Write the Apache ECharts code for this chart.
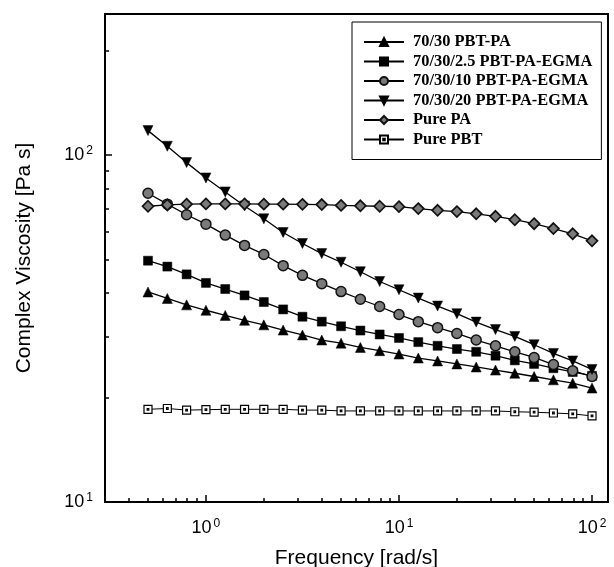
<!DOCTYPE html>
<html>
<head>
<meta charset="utf-8">
<script src="https://cdn.jsdelivr.net/npm/echarts@6/dist/echarts.min.js"></script>
<style>html,body{margin:0;padding:0;background:#fff}#c{width:614px;height:567px}</style>
</head>
<body>
<div id="c"></div>
<script>
var freq = [0.501, 0.631, 0.794, 1.0, 1.259, 1.585, 1.995, 2.512, 3.162, 3.981, 5.012, 6.31, 7.943, 10.0, 12.59, 15.85, 19.95, 25.12, 31.62, 39.81, 50.12, 63.1, 79.43, 100.0];
var pbtPa  = [40.3, 38.6, 37.0, 35.7, 34.5, 33.4, 32.4, 31.3, 30.3, 29.3, 28.7, 27.9, 27.3, 26.7, 26.0, 25.5, 25.0, 24.5, 24.0, 23.5, 23.0, 22.5, 22.0, 21.3];
var egma25 = [49.6, 47.7, 45.3, 42.8, 41.1, 39.4, 37.7, 35.9, 34.2, 33.1, 32.1, 31.2, 30.4, 29.7, 28.9, 28.2, 27.6, 27.1, 26.4, 25.6, 25.0, 24.3, 23.7, 23.1];
var egma10 = [77.6, 72.2, 67.3, 63.2, 58.8, 54.9, 51.7, 48.0, 45.0, 42.6, 40.4, 38.4, 36.6, 34.7, 33.1, 31.8, 30.6, 29.3, 28.2, 27.1, 26.1, 24.9, 23.9, 23.0];
var egma20 = [117.6, 106.0, 95.1, 85.9, 78.3, 71.3, 65.5, 59.8, 55.6, 52.0, 49.1, 46.1, 43.2, 40.9, 38.7, 36.7, 34.9, 33.0, 31.4, 30.0, 28.4, 26.8, 25.5, 24.1];
var purePa = [71.2, 71.8, 72.2, 72.3, 72.3, 72.3, 72.2, 72.2, 72.1, 72.0, 71.6, 71.4, 71.2, 71.0, 70.1, 69.3, 68.7, 67.7, 66.6, 65.1, 63.4, 61.4, 59.3, 56.6];
var purePbt = [18.5, 18.6, 18.4, 18.45, 18.5, 18.5, 18.5, 18.5, 18.4, 18.4, 18.3, 18.3, 18.3, 18.3, 18.3, 18.3, 18.3, 18.3, 18.3, 18.2, 18.15, 18.05, 17.95, 17.7];

var seriesNames = ['70/30 PBT-PA', '70/30/2.5 PBT-PA-EGMA', '70/30/10 PBT-PA-EGMA', '70/30/20 PBT-PA-EGMA', 'Pure PA', 'Pure PBT'];

var xMajor = [1, 10, 100];
var xMinor = [0.4, 0.5, 0.6, 0.7, 0.8, 0.9, 2, 3, 4, 5, 6, 7, 8, 9, 20, 30, 40, 50, 60, 70, 80, 90];
var yMajor = [10, 100];
var yMinor = [20, 30, 40, 50, 60, 70, 80, 90, 200];

var X_MIN = 0.3, X_MAX = 121, Y_MIN = 10, Y_MAX = 255;

function pairs(ys) { return freq.map(function (f, i) { return [f, ys[i]]; }); }

var chart = echarts.init(document.getElementById('c'), null, { renderer: 'canvas' });

var lbl = {
  fontFamily: 'Liberation Sans, Arial, sans-serif', fontSize: 18, color: '#000',
  formatter: function (v) { return '{b|10}{s|' + Math.round(Math.log10(v)) + '}'; },
  rich: {
    b: { fontSize: 18, fontFamily: 'Liberation Sans, Arial, sans-serif', color: '#000' },
    s: { fontSize: 12, fontFamily: 'Liberation Sans, Arial, sans-serif', color: '#000', padding: [0, 0, 8, 2] }
  }
};

function baseX(extra) {
  return Object.assign({
    type: 'log', logBase: 10, min: X_MIN, max: X_MAX, gridIndex: 0,
    position: 'bottom', splitLine: { show: false }, axisLine: { show: false }
  }, extra);
}
function baseY(extra) {
  return Object.assign({
    type: 'log', logBase: 10, min: Y_MIN, max: Y_MAX, gridIndex: 0,
    position: 'left', splitLine: { show: false }, axisLine: { show: false }
  }, extra);
}

var mk = function (name, data, symbol, size, itemStyle, lw) {
  return {
    name: name, type: 'line', data: pairs(data), symbol: symbol, symbolSize: size,
    lineStyle: { color: '#000', width: lw || 1.3 }, itemStyle: itemStyle,
    xAxisIndex: 0, yAxisIndex: 0, z: 3, animation: false, showAllSymbol: true
  };
};

var option = {
  animation: false,
  backgroundColor: '#fff',
  grid: { left: 105, right: 6, top: 14, bottom: 65, show: true, borderColor: '#000', borderWidth: 2, backgroundColor: 'transparent', containLabel: false, outerBoundsMode: 'none' },
  legend: {
    orient: 'vertical', left: 352, top: 22,
    data: seriesNames,
    itemWidth: 40, itemHeight: 10, itemGap: 3.5,
    padding: [12, 9, 12, 11],
    borderColor: '#000', borderWidth: 1,
    backgroundColor: '#fff',
    textStyle: { fontFamily: 'Liberation Serif, Times New Roman, serif', fontWeight: 'bold', fontSize: 16.4, color: '#000', padding: [0, 0, 0, 4] },
    inactiveColor: '#000'
  },
  xAxis: [
    baseX({
      name: 'Frequency [rad/s]', nameLocation: 'middle', nameGap: 46,
      nameTextStyle: { fontFamily: 'Liberation Sans, Arial, sans-serif', fontSize: 21, color: '#000' },
      axisTick: { show: true, inside: true, length: 7, lineStyle: { color: '#000', width: 1.5 }, customValues: xMajor },
      axisLabel: Object.assign({ show: true, margin: 16, customValues: xMajor, showMinLabel: true, showMaxLabel: true }, lbl)
    }),
    baseX({
      axisTick: { show: true, inside: true, length: 4, lineStyle: { color: '#000', width: 1.5 }, customValues: xMinor },
      axisLabel: { show: false }
    })
  ],
  yAxis: [
    baseY({
      name: 'Complex Viscosity [Pa s]', nameLocation: 'middle', nameGap: 70, nameRotate: 90,
      nameTextStyle: { fontFamily: 'Liberation Sans, Arial, sans-serif', fontSize: 21, color: '#000' },
      axisTick: { show: true, inside: true, length: 7, lineStyle: { color: '#000', width: 1.5 }, customValues: yMajor },
      axisLabel: Object.assign({ show: true, margin: 12, customValues: yMajor }, lbl)
    }),
    baseY({
      axisTick: { show: true, inside: true, length: 4, lineStyle: { color: '#000', width: 1.5 }, customValues: yMinor },
      axisLabel: { show: false }
    })
  ],
  series: [
    mk(seriesNames[0], pbtPa, 'triangle', 10, { color: '#000', borderColor: '#000', borderWidth: 0.5 }),
    mk(seriesNames[1], egma25, 'rect', 9, { color: '#000', borderColor: '#000', borderWidth: 0.5 }),
    mk(seriesNames[2], egma10, 'circle', 10, { color: '#7a7a7a', borderColor: '#111', borderWidth: 1.5 }),
    mk(seriesNames[3], egma20, 'path://M0,0 L10,0 L5,9 Z', 10, { color: '#000', borderColor: '#000', borderWidth: 0.5 }),
    mk(seriesNames[4], purePa, 'diamond', 11, { color: '#7a7a7a', borderColor: '#111', borderWidth: 1.7 }),
    mk(seriesNames[5], purePbt, 'path://M0,0 L10,0 L10,10 L0,10 Z M4,4 L6,4 L6,6 L4,6 Z', 8, { color: '#fff', borderColor: '#000', borderWidth: 1.2 }, 1)
  ]
};
chart.setOption(option);
</script>
</body>
</html>
